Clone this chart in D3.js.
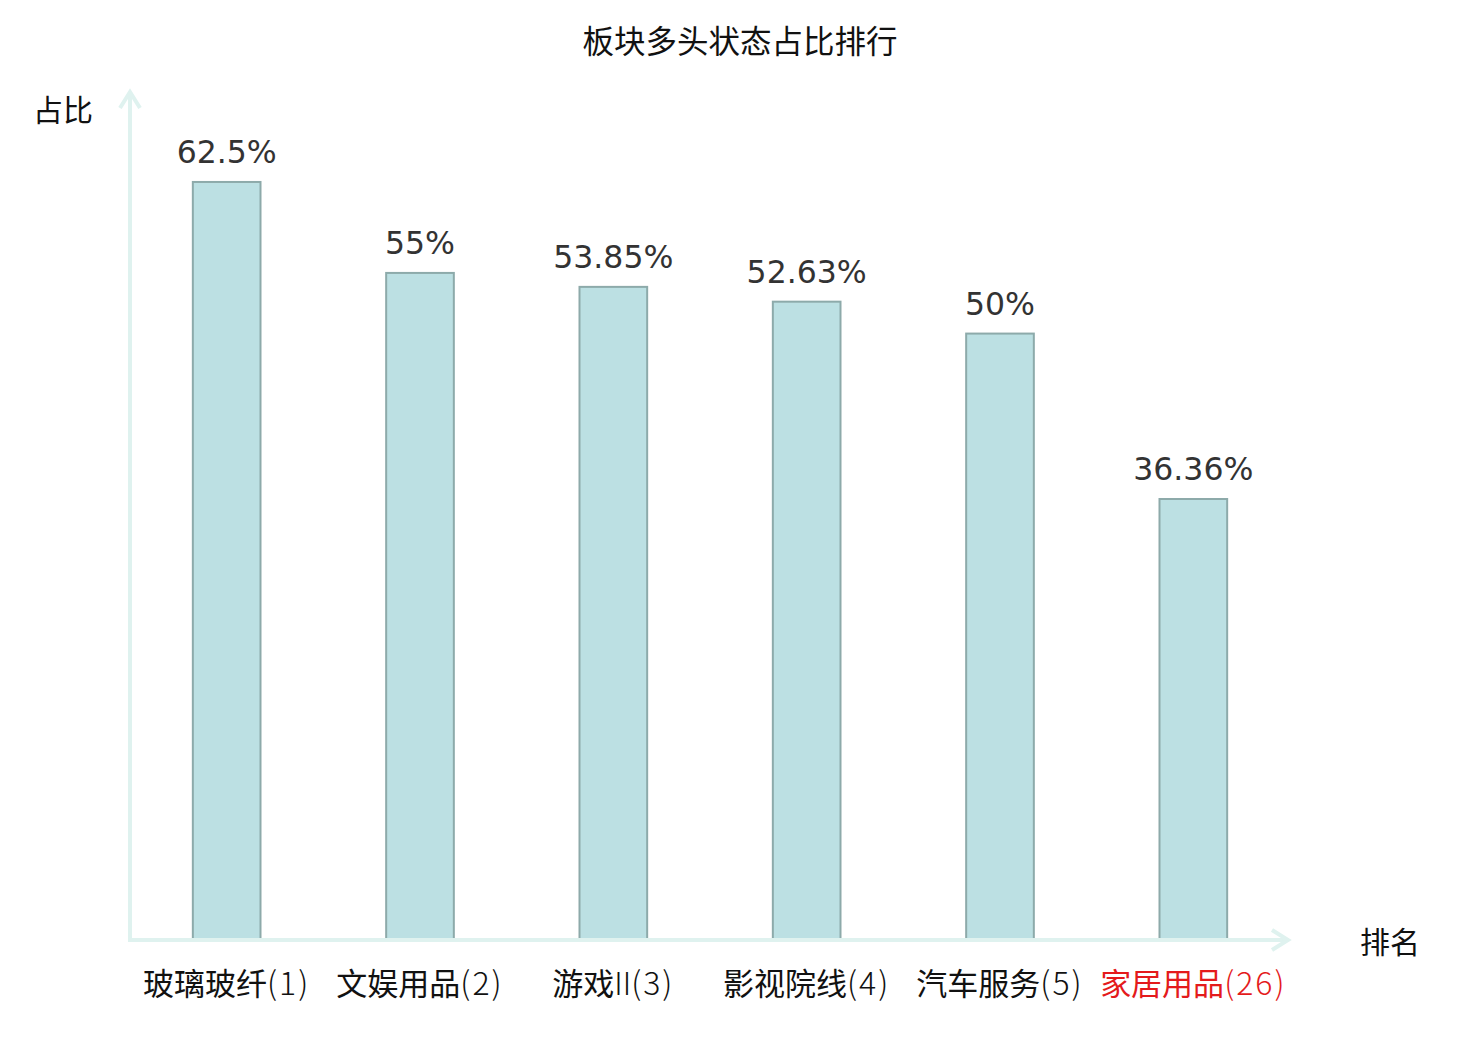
<!DOCTYPE html>
<html>
<head>
<meta charset="utf-8">
<script src="https://cdn.jsdelivr.net/npm/d3@7"></script>
<style>
  body { margin: 0; background: #fff; }
  text { font-family: "Noto Sans CJK SC", "DejaVu Sans", sans-serif; }
</style>
</head>
<body>
<div id="chart"></div>
<script>
// sector names, their rank and the share of bullish stocks (%)
const names = ["玻璃玻纤", "文娱用品", "游戏II", "影视院线", "汽车服务", "家居用品"];
const ranks = [1, 2, 3, 4, 5, 26];
const shares = [62.5, 55, 53.85, 52.63, 50, 36.36];
const highlight = [false, false, false, false, false, true];

const width = 1480, height = 1040;
const axisColor = "#dff2ef";

const svg = d3.select("#chart").append("svg")
    .attr("width", width)
    .attr("height", height);

const x = d3.scaleBand()
    .domain(d3.range(names.length))
    .range([130, 1290])
    .paddingInner(0.65)
    .paddingOuter(0.325);

const y = d3.scaleLinear()
    .domain([0, 70])
    .range([940, 91]);

// title
svg.append("text")
    .attr("x", 740)
    .attr("y", 53)
    .attr("text-anchor", "middle")
    .style("font-size", "31.5px")
    .attr("fill", "#111")
    .text("板块多头状态占比排行");

// bars
svg.append("g").selectAll("rect")
    .data(shares)
    .enter().append("rect")
        .attr("x", (d, i) => x(i))
        .attr("y", d => y(d))
        .attr("width", x.bandwidth())
        .attr("height", d => y(0) - y(d))
        .attr("fill", "#bce0e3")
        .attr("stroke", "#8daaaa")
        .attr("stroke-width", 2);

// value labels
svg.append("g").selectAll("text")
    .data(shares)
    .enter().append("text")
        .attr("x", (d, i) => x(i) + x.bandwidth() / 2)
        .attr("y", d => y(d) - 19)
        .attr("text-anchor", "middle")
        .style("font-family", "'DejaVu Sans', sans-serif")
        .style("font-size", "31.5px")
        .attr("fill", "#333")
        .text(d => d + "%");

// axes with arrows
const axes = svg.append("g")
    .attr("stroke", axisColor)
    .attr("stroke-width", 4)
    .attr("fill", "none");

axes.append("line")
    .attr("x1", 130).attr("y1", y(0))
    .attr("x2", 130).attr("y2", 92);
axes.append("path")
    .attr("d", "M120,108 L130,92 L140,108");

axes.append("line")
    .attr("x1", 128).attr("y1", y(0))
    .attr("x2", 1288).attr("y2", y(0));
axes.append("path")
    .attr("d", "M1272,930 L1288,940 L1272,950");

// category labels: CJK part normal, latin / rank part light
const cat = svg.append("g").selectAll("text")
    .data(names)
    .enter().append("text")
        .attr("x", (d, i) => x(i) + x.bandwidth() / 2)
        .attr("y", 995)
        .attr("text-anchor", "middle")
        .style("font-size", "31px")
        .attr("fill", (d, i) => highlight[i] ? "#e41a1c" : "#111");

cat.each(function(d, i) {
    const t = d3.select(this);
    d.split(/([A-Za-z]+)/).filter(s => s.length).forEach(s => {
        t.append("tspan")
            .style("font-weight", /[A-Za-z]/.test(s) ? 300 : 400)
            .text(s);
    });
    t.append("tspan")
        .style("font-weight", 300)
        .style("font-size", "32px")
        .style("letter-spacing", "2px")
        .text("(" + ranks[i] + ")");
});

// axis names
svg.append("text")
    .attr("x", 33)
    .attr("y", 121)
    .style("font-size", "30px")
    .attr("fill", "#111")
    .text("占比");

svg.append("text")
    .attr("x", 1360)
    .attr("y", 953)
    .style("font-size", "30px")
    .attr("fill", "#111")
    .text("排名");
</script>
</body>
</html>
